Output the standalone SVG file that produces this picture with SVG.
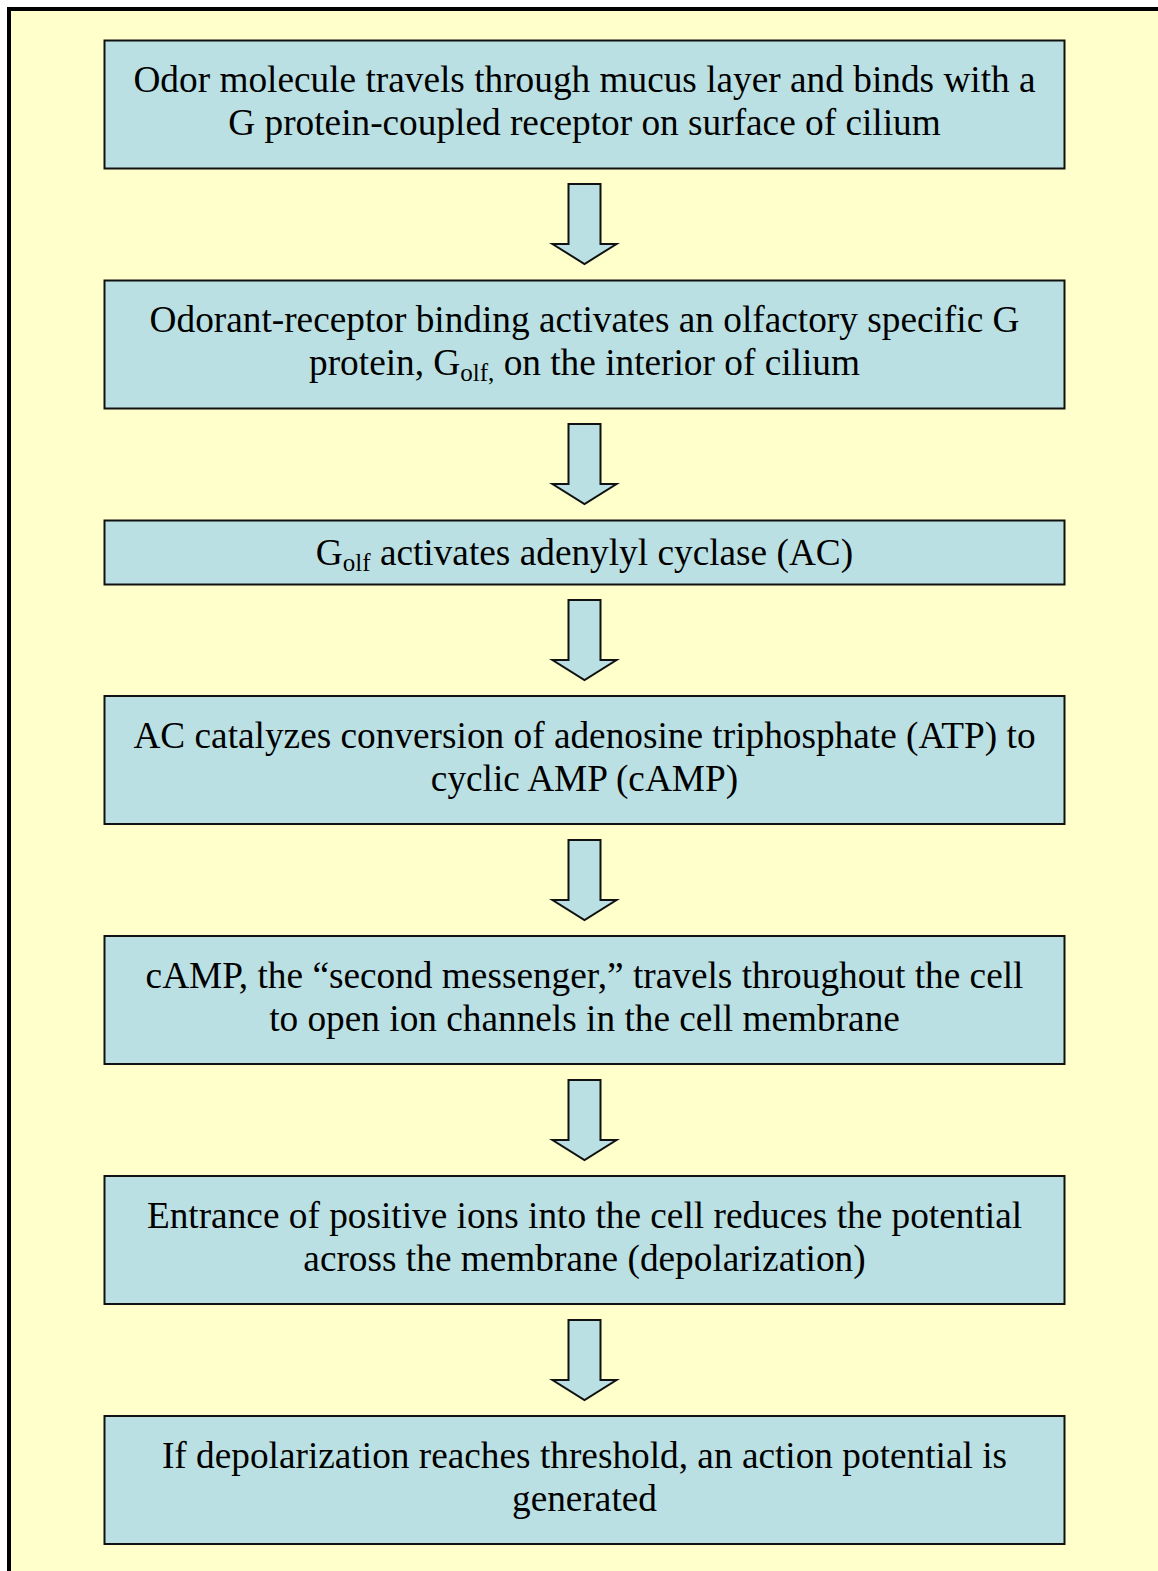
<svg xmlns="http://www.w3.org/2000/svg" width="1158" height="1571" viewBox="0 0 1158 1571">
<style>
.box{fill:#BBE0E3;stroke:#111;stroke-width:2}
.arr{fill:#BBE0E3;stroke:#111;stroke-width:2;stroke-linejoin:miter}
.t{font-family:"Liberation Serif","Times New Roman",serif;font-size:37.3px;fill:#000;text-anchor:middle}
.sub{font-size:25px}
</style>
<rect x="0" y="0" width="1158" height="1571" fill="#fff"/>
<rect x="9" y="9" width="1200" height="1600" fill="#FFFFCC" stroke="#000" stroke-width="4"/>
<g id="connectors">
<path class="arr" d="M568.5,184 H600.5 V244 H616.5 L584.5,264 L552.5,244 H568.5 Z"/>
<path class="arr" d="M568.5,424 H600.5 V484 H616.5 L584.5,504 L552.5,484 H568.5 Z"/>
<path class="arr" d="M568.5,600 H600.5 V660 H616.5 L584.5,680 L552.5,660 H568.5 Z"/>
<path class="arr" d="M568.5,840 H600.5 V900 H616.5 L584.5,920 L552.5,900 H568.5 Z"/>
<path class="arr" d="M568.5,1080 H600.5 V1140 H616.5 L584.5,1160 L552.5,1140 H568.5 Z"/>
<path class="arr" d="M568.5,1320 H600.5 V1380 H616.5 L584.5,1400 L552.5,1380 H568.5 Z"/>
</g>
<g id="n1">
<rect class="box" x="104.5" y="40.5" width="960" height="128"/>
<text class="t" x="584.5" y="92">Odor molecule travels through mucus layer and binds with a</text>
<text class="t" x="584.5" y="135">G protein-coupled receptor on surface of cilium</text>
</g>
<g id="n2">
<rect class="box" x="104.5" y="280.5" width="960" height="128"/>
<text class="t" x="584.5" y="332">Odorant-receptor binding activates an olfactory specific G</text>
<text class="t" x="584.5" y="375">protein, G<tspan class="sub" dy="6">olf,</tspan><tspan dy="-6"> on the interior of cilium</tspan></text>
</g>
<g id="n3">
<rect class="box" x="104.5" y="520.5" width="960" height="64"/>
<text class="t" x="584.5" y="565">G<tspan class="sub" dy="6">olf</tspan><tspan dy="-6"> activates adenylyl cyclase (AC)</tspan></text>
</g>
<g id="n4">
<rect class="box" x="104.5" y="696" width="960" height="128"/>
<text class="t" x="584.5" y="748">AC catalyzes conversion of adenosine triphosphate (ATP) to</text>
<text class="t" x="584.5" y="791">cyclic AMP (cAMP)</text>
</g>
<g id="n5">
<rect class="box" x="104.5" y="936" width="960" height="128"/>
<text class="t" x="584.5" y="988">cAMP, the “second messenger,” travels throughout the cell</text>
<text class="t" x="584.5" y="1031">to open ion channels in the cell membrane</text>
</g>
<g id="n6">
<rect class="box" x="104.5" y="1176" width="960" height="128"/>
<text class="t" x="584.5" y="1228">Entrance of positive ions into the cell reduces the potential</text>
<text class="t" x="584.5" y="1271">across the membrane (depolarization)</text>
</g>
<g id="n7">
<rect class="box" x="104.5" y="1416" width="960" height="128"/>
<text class="t" x="584.5" y="1468">If depolarization reaches threshold, an action potential is</text>
<text class="t" x="584.5" y="1511">generated</text>
</g>
</svg>
